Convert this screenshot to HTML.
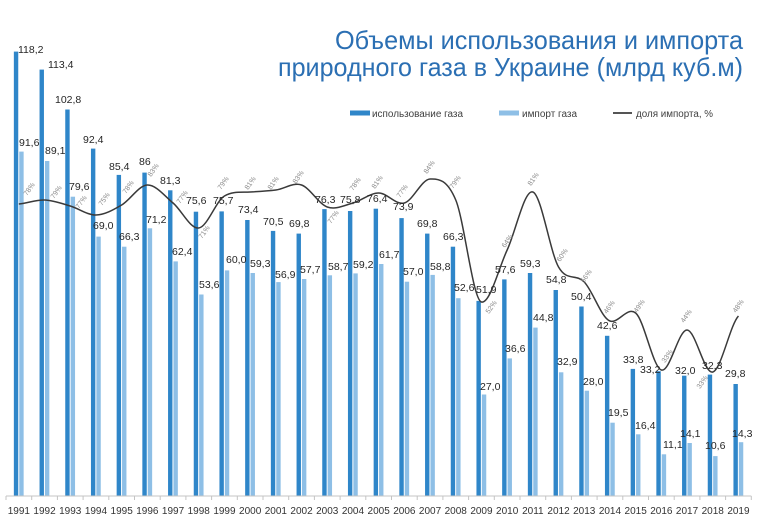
<!DOCTYPE html>
<html><head><meta charset="utf-8"><style>
html,body{margin:0;padding:0;background:#fff;width:768px;height:525px;overflow:hidden}
svg{display:block}
.v{font-family:"Liberation Sans",sans-serif;font-size:10.5px;fill:#262626}
.p{font-family:"Liberation Sans",sans-serif;font-size:7px;fill:#8a8a8a}
.yr{font-family:"Liberation Sans",sans-serif;font-size:10px;fill:#333;text-anchor:middle}
.lg{font-family:"Liberation Sans",sans-serif;font-size:10px;fill:#404040}
.t{font-family:"Liberation Sans",sans-serif;font-size:26px;fill:#2b6fb3;text-anchor:end}
</style></head><body>
<svg width="768" height="525" viewBox="0 0 768 525" xmlns="http://www.w3.org/2000/svg">
<rect width="768" height="525" fill="#fff"/>
<text class="t" x="743" y="49" textLength="408" lengthAdjust="spacingAndGlyphs">Объемы использования и импорта</text>
<text class="t" x="743" y="76" textLength="465" lengthAdjust="spacingAndGlyphs">природного газа в Украине (млрд куб.м)</text>

<rect x="350" y="110.5" width="20" height="5" fill="#2f86c9"/>
<text class="lg" x="372" y="117" textLength="91" lengthAdjust="spacingAndGlyphs">использование газа</text>
<rect x="499" y="110.5" width="20" height="5" fill="#8ebfe6"/>
<text class="lg" x="522" y="117" textLength="55" lengthAdjust="spacingAndGlyphs">импорт газа</text>
<line x1="613" y1="113" x2="632" y2="113" stroke="#555" stroke-width="2"/>
<text class="lg" x="636" y="117" textLength="77" lengthAdjust="spacingAndGlyphs">доля импорта, %</text>

<g fill="#2f86c9">
<rect x="13.85" y="51.6" width="4.4" height="444.4"/>
<rect x="39.55" y="69.6" width="4.4" height="426.4"/>
<rect x="65.25" y="109.5" width="4.4" height="386.5"/>
<rect x="90.95" y="148.6" width="4.4" height="347.4"/>
<rect x="116.65" y="174.9" width="4.4" height="321.1"/>
<rect x="142.35" y="172.6" width="4.4" height="323.4"/>
<rect x="168.05" y="190.3" width="4.4" height="305.7"/>
<rect x="193.75" y="211.7" width="4.4" height="284.3"/>
<rect x="219.45" y="211.4" width="4.4" height="284.6"/>
<rect x="245.15" y="220" width="4.4" height="276"/>
<rect x="270.85" y="230.9" width="4.4" height="265.1"/>
<rect x="296.55" y="233.6" width="4.4" height="262.4"/>
<rect x="322.25" y="209.1" width="4.4" height="286.9"/>
<rect x="347.95" y="211" width="4.4" height="285"/>
<rect x="373.65" y="208.7" width="4.4" height="287.3"/>
<rect x="399.35" y="218.1" width="4.4" height="277.9"/>
<rect x="425.05" y="233.6" width="4.4" height="262.4"/>
<rect x="450.75" y="246.7" width="4.4" height="249.3"/>
<rect x="476.45" y="300.9" width="4.4" height="195.1"/>
<rect x="502.15" y="279.4" width="4.4" height="216.6"/>
<rect x="527.85" y="273" width="4.4" height="223"/>
<rect x="553.55" y="290" width="4.4" height="206"/>
<rect x="579.25" y="306.5" width="4.4" height="189.5"/>
<rect x="604.95" y="335.8" width="4.4" height="160.2"/>
<rect x="630.65" y="368.9" width="4.4" height="127.1"/>
<rect x="656.35" y="371.2" width="4.4" height="124.8"/>
<rect x="682.05" y="375.7" width="4.4" height="120.3"/>
<rect x="707.75" y="374.6" width="4.4" height="121.4"/>
<rect x="733.45" y="384" width="4.4" height="112"/>
</g>
<g fill="#8ebfe6">
<rect x="19.25" y="151.6" width="4.4" height="344.4"/>
<rect x="44.95" y="161" width="4.4" height="335"/>
<rect x="70.65" y="196.7" width="4.4" height="299.3"/>
<rect x="96.35" y="236.6" width="4.4" height="259.4"/>
<rect x="122.05" y="246.7" width="4.4" height="249.3"/>
<rect x="147.75" y="228.3" width="4.4" height="267.7"/>
<rect x="173.45" y="261.4" width="4.4" height="234.6"/>
<rect x="199.15" y="294.5" width="4.4" height="201.5"/>
<rect x="224.85" y="270.4" width="4.4" height="225.6"/>
<rect x="250.55" y="273" width="4.4" height="223"/>
<rect x="276.25" y="282.1" width="4.4" height="213.9"/>
<rect x="301.95" y="279" width="4.4" height="217"/>
<rect x="327.65" y="275.3" width="4.4" height="220.7"/>
<rect x="353.35" y="273.4" width="4.4" height="222.6"/>
<rect x="379.05" y="264" width="4.4" height="232"/>
<rect x="404.75" y="281.7" width="4.4" height="214.3"/>
<rect x="430.45" y="274.9" width="4.4" height="221.1"/>
<rect x="456.15" y="298.2" width="4.4" height="197.8"/>
<rect x="481.85" y="394.5" width="4.4" height="101.5"/>
<rect x="507.55" y="358.4" width="4.4" height="137.6"/>
<rect x="533.25" y="327.6" width="4.4" height="168.4"/>
<rect x="558.95" y="372.3" width="4.4" height="123.7"/>
<rect x="584.65" y="390.7" width="4.4" height="105.3"/>
<rect x="610.35" y="422.7" width="4.4" height="73.3"/>
<rect x="636.05" y="434.3" width="4.4" height="61.7"/>
<rect x="661.75" y="454.3" width="4.4" height="41.7"/>
<rect x="687.45" y="443" width="4.4" height="53"/>
<rect x="713.15" y="456.1" width="4.4" height="39.9"/>
<rect x="738.85" y="442.2" width="4.4" height="53.8"/>
</g>

<path fill="none" stroke="#3a3a3a" stroke-width="1.5" d="M18.85 204 C27.42 203.33,35.98 199.67,44.55 200 C53.12 200.33,61.68 203.5,70.25 206 C78.82 208.5,87.38 215.17,95.95 215 C104.52 214.83,113.08 210,121.65 205 C130.22 200,138.78 185.33,147.35 185 C155.92 184.67,164.48 195.83,173.05 203 C181.62 210.17,190.18 229,198.75 228 C207.32 227,215.88 201,224.45 196 C233.02 191,241.58 192.5,250.15 192 C258.72 191.5,267.28 191,275.85 190 C284.42 189,292.98 182,301.55 185 C310.12 188,318.68 204,327.25 207 C335.82 210,344.38 205.33,352.95 203 C361.52 200.67,370.08 193,378.65 193 C387.22 193,395.78 205.33,404.35 203 C412.92 200.67,421.48 179.5,430.05 179 C438.62 178.5,447.18 179.5,455.75 200 C464.32 220.5,472.88 300,481.45 302 C490.02 304,498.58 268.33,507.15 250 C515.72 231.67,524.28 189.17,532.85 192 C541.42 194.83,549.98 252,558.55 267 C567.12 282,575.68 273.17,584.25 282 C592.82 290.83,601.38 318,609.95 321 C618.52 324,627.08 306,635.65 313 C644.22 320,652.78 367.17,661.35 370 C669.92 372.83,678.48 329.67,687.05 330 C695.62 330.33,704.18 374.33,712.75 372 C721.32 369.67,729.88 325.33,738.45 316"/>

<g class="v">
<text x="18" y="53">118,2</text>
<text x="48" y="68">113,4</text>
<text x="55" y="103">102,8</text>
<text x="83" y="143">92,4</text>
<text x="109" y="170">85,4</text>
<text x="139" y="165">86</text>
<text x="160" y="184">81,3</text>
<text x="186" y="204">75,6</text>
<text x="213" y="204">75,7</text>
<text x="238" y="213">73,4</text>
<text x="263" y="225">70,5</text>
<text x="289" y="227">69,8</text>
<text x="315" y="203">76,3</text>
<text x="340" y="203">75,8</text>
<text x="367" y="202">76,4</text>
<text x="393" y="210">73,9</text>
<text x="417" y="227">69,8</text>
<text x="443" y="240">66,3</text>
<text x="476" y="293">51,9</text>
<text x="495" y="273">57,6</text>
<text x="520" y="267">59,3</text>
<text x="546" y="283">54,8</text>
<text x="571" y="300">50,4</text>
<text x="597" y="329">42,6</text>
<text x="623" y="363">33,8</text>
<text x="640" y="373">33,2</text>
<text x="675" y="374">32,0</text>
<text x="702" y="369">32,3</text>
<text x="725" y="377">29,8</text>

<text x="19" y="146">91,6</text>
<text x="45" y="154">89,1</text>
<text x="69" y="190">79,6</text>
<text x="93" y="229">69,0</text>
<text x="119" y="240">66,3</text>
<text x="146" y="223">71,2</text>
<text x="172" y="255">62,4</text>
<text x="199" y="288">53,6</text>
<text x="226" y="263">60,0</text>
<text x="250" y="267">59,3</text>
<text x="275" y="278">56,9</text>
<text x="300" y="273">57,7</text>
<text x="328" y="270">58,7</text>
<text x="353" y="268">59,2</text>
<text x="379" y="258">61,7</text>
<text x="403" y="275">57,0</text>
<text x="430" y="270">58,8</text>
<text x="454" y="291">52,6</text>
<text x="480" y="390">27,0</text>
<text x="505" y="352">36,6</text>
<text x="533" y="321">44,8</text>
<text x="557" y="365">32,9</text>
<text x="583" y="385">28,0</text>
<text x="608" y="416">19,5</text>
<text x="635" y="429">16,4</text>
<text x="663" y="448">11,1</text>
<text x="680" y="437">14,1</text>
<text x="705" y="449">10,6</text>
<text x="732" y="437">14,3</text>
</g>

<g class="p" text-anchor="middle">
<text transform="translate(29,189) rotate(-55)" dy="2.5">78%</text>
<text transform="translate(56,192) rotate(-55)" dy="2.5">79%</text>
<text transform="translate(81,202) rotate(-55)" dy="2.5">77%</text>
<text transform="translate(104,199) rotate(-55)" dy="2.5">75%</text>
<text transform="translate(128,187) rotate(-55)" dy="2.5">78%</text>
<text transform="translate(153,170) rotate(-55)" dy="2.5">83%</text>
<text transform="translate(182,197) rotate(-55)" dy="2.5">77%</text>
<text transform="translate(204,232) rotate(-55)" dy="2.5">71%</text>
<text transform="translate(223,183) rotate(-55)" dy="2.5">79%</text>
<text transform="translate(250,183) rotate(-55)" dy="2.5">81%</text>
<text transform="translate(273,183) rotate(-55)" dy="2.5">81%</text>
<text transform="translate(298,177) rotate(-55)" dy="2.5">83%</text>
<text transform="translate(333,217) rotate(-55)" dy="2.5">77%</text>
<text transform="translate(355,184) rotate(-55)" dy="2.5">78%</text>
<text transform="translate(377,182) rotate(-55)" dy="2.5">81%</text>
<text transform="translate(402,191) rotate(-55)" dy="2.5">77%</text>
<text transform="translate(429,167) rotate(-55)" dy="2.5">84%</text>
<text transform="translate(455,182) rotate(-55)" dy="2.5">79%</text>
<text transform="translate(491,307) rotate(-55)" dy="2.5">52%</text>
<text transform="translate(507,241) rotate(-55)" dy="2.5">64%</text>
<text transform="translate(533,179) rotate(-55)" dy="2.5">81%</text>
<text transform="translate(562,255) rotate(-55)" dy="2.5">60%</text>
<text transform="translate(586,276) rotate(-55)" dy="2.5">56%</text>
<text transform="translate(609,307) rotate(-55)" dy="2.5">46%</text>
<text transform="translate(639,306) rotate(-55)" dy="2.5">49%</text>
<text transform="translate(667,356) rotate(-55)" dy="2.5">33%</text>
<text transform="translate(686,316) rotate(-55)" dy="2.5">44%</text>
<text transform="translate(702,382) rotate(-55)" dy="2.5">33%</text>
<text transform="translate(738,306) rotate(-55)" dy="2.5">48%</text>
</g>

<line x1="6" y1="496" x2="751.3" y2="496" stroke="#c4c4c4" stroke-width="1"/>
<g stroke="#c4c4c4" stroke-width="1">
<line x1="6" y1="496" x2="6" y2="500"/><line x1="31.7" y1="496" x2="31.7" y2="500"/><line x1="57.4" y1="496" x2="57.4" y2="500"/><line x1="83.1" y1="496" x2="83.1" y2="500"/><line x1="108.8" y1="496" x2="108.8" y2="500"/><line x1="134.5" y1="496" x2="134.5" y2="500"/><line x1="160.2" y1="496" x2="160.2" y2="500"/><line x1="185.9" y1="496" x2="185.9" y2="500"/><line x1="211.6" y1="496" x2="211.6" y2="500"/><line x1="237.3" y1="496" x2="237.3" y2="500"/><line x1="263" y1="496" x2="263" y2="500"/><line x1="288.7" y1="496" x2="288.7" y2="500"/><line x1="314.4" y1="496" x2="314.4" y2="500"/><line x1="340.1" y1="496" x2="340.1" y2="500"/><line x1="365.8" y1="496" x2="365.8" y2="500"/><line x1="391.5" y1="496" x2="391.5" y2="500"/><line x1="417.2" y1="496" x2="417.2" y2="500"/><line x1="442.9" y1="496" x2="442.9" y2="500"/><line x1="468.6" y1="496" x2="468.6" y2="500"/><line x1="494.3" y1="496" x2="494.3" y2="500"/><line x1="520" y1="496" x2="520" y2="500"/><line x1="545.7" y1="496" x2="545.7" y2="500"/><line x1="571.4" y1="496" x2="571.4" y2="500"/><line x1="597.1" y1="496" x2="597.1" y2="500"/><line x1="622.8" y1="496" x2="622.8" y2="500"/><line x1="648.5" y1="496" x2="648.5" y2="500"/><line x1="674.2" y1="496" x2="674.2" y2="500"/><line x1="699.9" y1="496" x2="699.9" y2="500"/><line x1="725.6" y1="496" x2="725.6" y2="500"/><line x1="751.3" y1="496" x2="751.3" y2="500"/>
</g>
<g class="yr">
<text x="18.85" y="514">1991</text><text x="44.55" y="514">1992</text><text x="70.25" y="514">1993</text><text x="95.95" y="514">1994</text><text x="121.65" y="514">1995</text><text x="147.35" y="514">1996</text><text x="173.05" y="514">1997</text><text x="198.75" y="514">1998</text><text x="224.45" y="514">1999</text><text x="250.15" y="514">2000</text><text x="275.85" y="514">2001</text><text x="301.55" y="514">2002</text><text x="327.25" y="514">2003</text><text x="352.95" y="514">2004</text><text x="378.65" y="514">2005</text><text x="404.35" y="514">2006</text><text x="430.05" y="514">2007</text><text x="455.75" y="514">2008</text><text x="481.45" y="514">2009</text><text x="507.15" y="514">2010</text><text x="532.85" y="514">2011</text><text x="558.55" y="514">2012</text><text x="584.25" y="514">2013</text><text x="609.95" y="514">2014</text><text x="635.65" y="514">2015</text><text x="661.35" y="514">2016</text><text x="687.05" y="514">2017</text><text x="712.75" y="514">2018</text><text x="738.45" y="514">2019</text>
</g>
</svg>
</body></html>
